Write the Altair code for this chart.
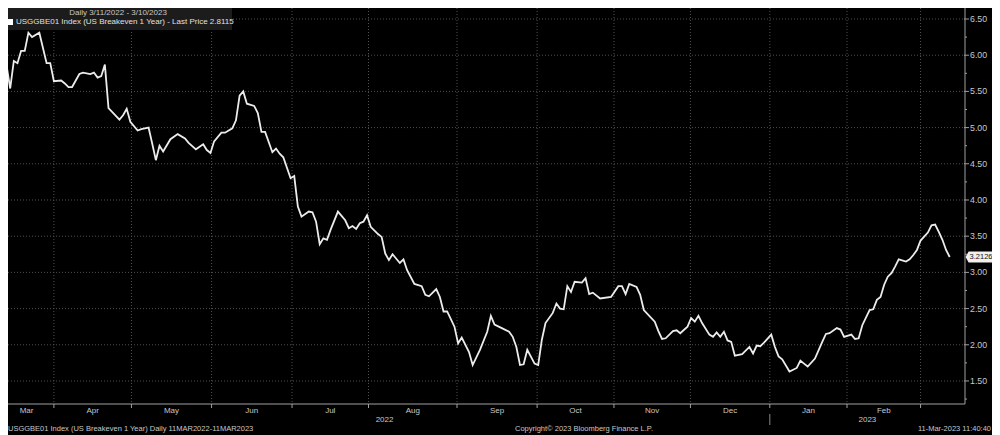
import altair as alt
import pandas as pd

# ---- data (trading-day number since 11 Mar 2022, US Breakeven 1 Year) ----
day = [0, 2, 3, 4, 5, 6, 7, 8, 9, 11, 13, 14, 15, 17, 18, 19, 20, 22, 23, 25,
       26, 27, 28, 29, 30, 33, 34, 35, 36, 38, 39, 41, 42, 43, 44, 45, 47, 49, 51, 52,
       54, 56, 57, 58, 59, 61, 62, 64, 65, 66, 67, 68, 70, 71, 72, 73, 75, 76, 77, 78,
       80, 81, 82, 83, 85, 86, 87, 88, 89, 90, 91, 93, 95, 96, 97, 98, 99, 100, 101, 102,
       104, 105, 106, 107, 108, 110, 111, 112, 114, 116, 117, 118, 120, 121, 122, 123, 125, 126, 127, 129,
       130, 132, 134, 135, 136, 138, 140, 141, 142, 143, 144, 145, 147, 148, 149, 150, 152, 153, 154, 155,
       156, 157, 158, 160, 161, 162, 163, 165, 168, 170, 171, 172, 173, 175, 176, 177, 180, 181, 182, 183,
       185, 186, 187, 189, 190, 191, 192, 193, 195, 196, 197, 198, 199, 200, 201, 202, 204, 206, 207, 208,
       209, 210, 212, 213, 214, 215, 217, 219, 220, 221, 222, 224, 226, 227, 228, 230, 231, 232, 234, 235,
       236, 237, 239, 240, 241, 242, 243, 244, 245, 246, 247, 249, 250, 251, 252, 253, 255, 256, 257, 258,
       259, 260, 261]
value = [5.94, 5.86, 5.54, 5.92, 5.89, 6.06, 6.06, 6.31, 6.25, 6.31, 5.89, 5.89, 5.64, 5.65, 5.61, 5.56, 5.56, 5.74, 5.76, 5.74,
         5.76, 5.69, 5.71, 5.87, 5.27, 5.11, 5.17, 5.26, 5.08, 4.96, 4.98, 5.00, 4.78, 4.55, 4.75, 4.67, 4.84, 4.91, 4.85, 4.79,
         4.70, 4.77, 4.69, 4.65, 4.81, 4.93, 4.93, 4.99, 5.10, 5.44, 5.50, 5.33, 5.30, 5.20, 4.94, 4.94, 4.66, 4.71, 4.64, 4.59,
         4.30, 4.33, 3.91, 3.77, 3.84, 3.83, 3.70, 3.39, 3.47, 3.45, 3.59, 3.84, 3.72, 3.61, 3.64, 3.60, 3.68, 3.70, 3.79, 3.63,
         3.53, 3.49, 3.26, 3.17, 3.25, 3.13, 3.18, 3.03, 2.84, 2.81, 2.69, 2.67, 2.77, 2.66, 2.46, 2.46, 2.25, 2.02, 2.10, 1.90,
         1.72, 1.93, 2.18, 2.40, 2.28, 2.23, 2.18, 2.11, 1.97, 1.72, 1.73, 1.93, 1.74, 1.72, 2.07, 2.30, 2.44, 2.57, 2.50, 2.49,
         2.81, 2.73, 2.87, 2.86, 2.92, 2.70, 2.72, 2.64, 2.66, 2.81, 2.81, 2.70, 2.84, 2.80, 2.69, 2.48, 2.32, 2.19, 2.08, 2.09,
         2.19, 2.20, 2.16, 2.25, 2.37, 2.32, 2.40, 2.30, 2.14, 2.11, 2.17, 2.11, 2.18, 2.06, 2.04, 1.85, 1.87, 1.97, 1.88, 1.99,
         1.98, 2.03, 2.14, 1.97, 1.84, 1.80, 1.63, 1.68, 1.78, 1.74, 1.70, 1.81, 2.04, 2.15, 2.16, 2.23, 2.21, 2.11, 2.14, 2.08,
         2.09, 2.27, 2.48, 2.49, 2.62, 2.66, 2.83, 2.94, 2.99, 3.08, 3.18, 3.15, 3.18, 3.24, 3.31, 3.44, 3.55, 3.65, 3.66, 3.56,
         3.45, 3.31, 3.2126]

month_labels = ["Mar", "Apr", "May", "Jun", "Jul", "Aug", "Sep", "Oct", "Nov", "Dec", "Jan", "Feb"]
month_start_day = [15, 36.3, 58.3, 80.4, 101.4, 125.7, 147.7, 168.8, 189.8, 211.6, 232.8, 253]
year_labels = ["2022", "2023"]
y_major = [1.5, 2.0, 2.5, 3.0, 3.5, 4.0, 4.5, 5.0, 5.5, 6.0, 6.5]
y_minor = [1.25, 1.75, 2.25, 2.75, 3.25, 3.75, 4.25, 4.75, 5.25, 5.75, 6.25]
last_value = 3.2126

X_DOMAIN = [2.4, 265.2]
Y_DOMAIN = [1.182, 6.652]
W, H = 957, 396
FONT = "Liberation Sans"
FS = 8
GRID = "#505050"
AXC = "#a0a0a0"
LAB = "#c8c8c8"

df = pd.DataFrame({"day": day, "value": value})
xscale = alt.Scale(domain=X_DOMAIN, nice=False, zero=False)
yscale = alt.Scale(domain=Y_DOMAIN, nice=False, zero=False)
one = pd.DataFrame({"a": [0]})
mdays = pd.DataFrame({"d": month_start_day})
ymaj = pd.DataFrame({"v": y_major, "lab": [f"{v:.2f}" for v in y_major]})
ymin = pd.DataFrame({"v": y_minor})

# dotted grid lines
vgrid = alt.Chart(mdays).mark_rule(color=GRID, strokeDash=[1, 2], strokeWidth=1).encode(
    x=alt.X("d:Q", scale=xscale, axis=None), y=alt.value(0), y2=alt.value(H))
hgrid = alt.Chart(ymaj).mark_rule(color=GRID, strokeDash=[1, 2], strokeWidth=1).encode(
    y=alt.Y("v:Q", scale=yscale, axis=None), x=alt.value(0), x2=alt.value(W))

# axis lines, ticks and labels
x_dom = alt.Chart(one).mark_rule(color=AXC, strokeWidth=1).encode(
    x=alt.value(0), x2=alt.value(W), y=alt.value(H))
y_dom = alt.Chart(one).mark_rule(color=AXC, strokeWidth=1).encode(
    x=alt.value(W), y=alt.value(0), y2=alt.value(H))
x_ticks = alt.Chart(mdays).mark_rule(color=AXC, strokeWidth=1).encode(
    x=alt.X("d:Q", scale=xscale, axis=None), y=alt.value(H), y2=alt.value(H + 4))
y_ticks = alt.Chart(ymaj).mark_rule(color=AXC, strokeWidth=1).encode(
    y=alt.Y("v:Q", scale=yscale, axis=None), x=alt.value(W - 1), x2=alt.value(W + 4))
y_mticks = alt.Chart(ymin).mark_rule(color=AXC, strokeWidth=1).encode(
    y=alt.Y("v:Q", scale=yscale, axis=None), x=alt.value(W), x2=alt.value(W + 2))
y_labels = alt.Chart(ymaj).mark_text(color=LAB, fontSize=8.8, font=FONT, align="left", baseline="middle").encode(
    y=alt.Y("v:Q", scale=yscale, axis=None), x=alt.value(W + 5), text="lab:N")

line = alt.Chart(df).mark_line(color="#ececec", strokeWidth=1.8, clip=True).encode(
    x=alt.X("day:Q", scale=xscale, axis=None),
    y=alt.Y("value:Q", scale=yscale, axis=None),
)

# month labels centred between boundaries
bounds = [0] + month_start_day
mids = [(bounds[i] + bounds[i + 1]) / 2 for i in range(len(month_labels))]
mdf = pd.DataFrame({"mid": mids, "lab": month_labels})
months = alt.Chart(mdf).mark_text(color=LAB, fontSize=FS, font=FONT, baseline="middle").encode(
    x=alt.X("mid:Q", scale=xscale, axis=None), y=alt.value(403), text="lab:N")

jan = month_start_day[9]
ydf = pd.DataFrame({"mid": [jan / 2, (jan + X_DOMAIN[1]) / 2], "lab": year_labels})
years = alt.Chart(ydf).mark_text(color=LAB, fontSize=FS, font=FONT, baseline="middle").encode(
    x=alt.X("mid:Q", scale=xscale, axis=None), y=alt.value(412), text="lab:N")

sep = alt.Chart(pd.DataFrame({"d": [jan]})).mark_rule(color="#8a8a8a", strokeWidth=1).encode(
    x=alt.X("d:Q", scale=xscale, axis=None), y=alt.value(406), y2=alt.value(417))

legend_box = alt.Chart(one).mark_rect(color="#1c1c1c").encode(
    x=alt.value(-5), x2=alt.value(224), y=alt.value(-5), y2=alt.value(22))
legend_t1 = alt.Chart(one).mark_text(color=LAB, fontSize=FS, font=FONT, align="center", baseline="middle").encode(
    x=alt.value(110), y=alt.value(5), text=alt.value("Daily 3/11/2022 - 3/10/2023"))
legend_sq = alt.Chart(one).mark_rect(color="#ffffff").encode(
    x=alt.value(-1), x2=alt.value(5), y=alt.value(11), y2=alt.value(17))
legend_t2 = alt.Chart(one).mark_text(color="#e0e0e0", fontSize=FS, font=FONT, align="left", baseline="middle").encode(
    x=alt.value(8), y=alt.value(14),
    text=alt.value("USGGBE01 Index (US Breakeven 1 Year) - Last Price 2.8115"))

FFS = 7.5
foot_l = alt.Chart(one).mark_text(color=LAB, fontSize=FFS, font=FONT, align="left", baseline="middle").encode(
    x=alt.value(0), y=alt.value(421),
    text=alt.value("USGGBE01 Index (US Breakeven 1 Year)  Daily 11MAR2022-11MAR2023"))
foot_c = alt.Chart(one).mark_text(color=LAB, fontSize=FFS, font=FONT, align="center", baseline="middle").encode(
    x=alt.value(576), y=alt.value(421), text=alt.value("Copyright\u00a9 2023 Bloomberg Finance L.P."))
foot_r = alt.Chart(one).mark_text(color=LAB, fontSize=FFS, font=FONT, align="right", baseline="middle").encode(
    x=alt.value(983), y=alt.value(421), text=alt.value("11-Mar-2023 11:40:40"))

ldf = pd.DataFrame({"value": [last_value], "lab": [f"{last_value:.4f}"]})
tag = alt.Chart(ldf).mark_point(
    shape="M-1.2,0 L-0.95,-0.46 L1,-0.46 L1,0.46 L-0.95,0.46 Z",
    filled=True, color="#f0f0f0", opacity=1, size=576, strokeWidth=0).encode(
    x=alt.value(972), y=alt.Y("value:Q", scale=yscale, axis=None))
tag_t = alt.Chart(ldf).mark_text(color="#111111", fontSize=7.5, font=FONT, align="center", baseline="middle").encode(
    x=alt.value(973), y=alt.Y("value:Q", scale=yscale, axis=None), text="lab:N")

chart = alt.layer(
    vgrid, hgrid, line, x_dom, y_dom, x_ticks, y_ticks, y_mticks, y_labels,
    months, years, sep, legend_box, legend_t1, legend_sq, legend_t2,
    foot_l, foot_c, foot_r, tag, tag_t
).properties(
    width=W, height=H, background="#000000",
    padding={"left": 0, "top": 0, "right": 27, "bottom": 31},
    autosize=alt.AutoSizeParams(type="none"),
).configure_view(strokeWidth=0)

chart.save("out.html", embed_options={"renderer": "svg", "actions": False})
